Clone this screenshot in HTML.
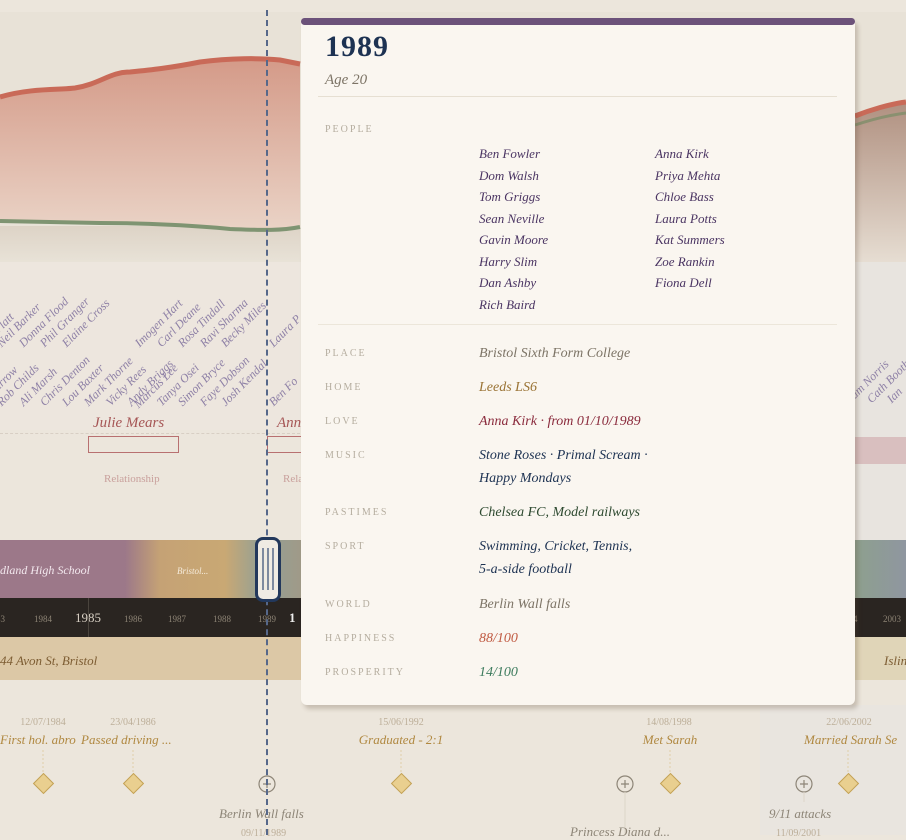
<!DOCTYPE html>
<html><head><meta charset="utf-8"><style>
*{margin:0;padding:0;box-sizing:border-box}
body{width:906px;height:835px;overflow:hidden;background:#ece6dc;font-family:"Liberation Serif",serif;position:relative}
.a{position:absolute;white-space:nowrap}
.i{font-style:italic}
.nm{position:absolute;font-style:italic;font-size:12px;color:#8e80a6;transform-origin:0 100%;transform:rotate(-45deg);white-space:nowrap;line-height:12px}
.lab{position:absolute;left:325px;font-size:10px;letter-spacing:2px;color:#b5ad9f}
.val{position:absolute;left:479px;font-size:14px;font-style:italic;line-height:23px}
.pn{position:absolute;font-size:13px;font-style:italic;color:#4a3462}
.dt{position:absolute;font-size:10px;color:#bcae98;transform:translateX(-50%)}
.ev{position:absolute;font-size:13px;font-style:italic;color:#b08840;transform:translateX(-50%)}
.dia{position:absolute;width:15px;height:15px;background:#e9cf8f;border:1px solid #c3a257;transform:rotate(45deg)}
.yr{position:absolute;top:614px;font-size:9px;color:#8d8475}
</style></head><body>
<div class="a" style="left:0;top:12px;width:906px;height:250px;background:#e8e2d7"></div>
<svg class="a" style="left:0;top:0" width="906" height="270">
<defs><linearGradient id="g1" x1="0" y1="0" x2="0" y2="1"><stop offset="0" stop-color="#d49a88"/><stop offset="1" stop-color="#ead3c6"/></linearGradient>
<linearGradient id="g2" x1="0" y1="0" x2="0" y2="1"><stop offset="0" stop-color="#b09080"/><stop offset="1" stop-color="#e6ddd2"/></linearGradient>
<linearGradient id="g3" x1="0" y1="0" x2="0" y2="1"><stop offset="0" stop-color="#ddd3c6"/><stop offset="1" stop-color="#e8e2d7"/></linearGradient></defs>
<rect x="0" y="226" width="300" height="36" fill="url(#g3)"/>
<path d="M0,97 C30,88 60,90 75,88 C100,84 110,72 130,72 C150,70 170,68 200,62 C230,58 260,58 280,60 L300,64 L300,227 C280,231 260,230 230,229 C200,226 150,223 100,223 L0,221 Z" fill="url(#g1)"/>
<path d="M0,97 C30,88 60,90 75,88 C100,84 110,72 130,72 C150,70 170,68 200,62 C230,58 260,58 280,60 L300,64" fill="none" stroke="#c96a58" stroke-width="5"/>
<path d="M0,221 L100,223 C150,223 200,226 230,229 C260,230 280,231 300,227" fill="none" stroke="#7f9472" stroke-width="4"/>
<path d="M855,116 C870,110 890,104 906,102 L906,262 L855,262 Z" fill="url(#g2)"/>
<path d="M855,116 C870,110 890,104 906,102" stroke="#c96a58" stroke-width="5" fill="none"/>
<path d="M855,125 C870,120 890,115 906,113" stroke="#8a9070" stroke-width="3" fill="none"/>
</svg>
<div class="a" style="left:0;top:262px;width:906px;height:168px;background:#ede6de"></div>
<div class="a" style="left:855px;top:262px;width:51px;height:278px;background:#e8e4df"></div>
<div class="nm" style="left:-14px;top:337px">Ian Platt</div>
<div class="nm" style="left:3px;top:337px">Neil Barker</div>
<div class="nm" style="left:25px;top:337px">Donna Flood</div>
<div class="nm" style="left:46px;top:337px">Phil Granger</div>
<div class="nm" style="left:68px;top:337px">Elaine Cross</div>
<div class="nm" style="left:141px;top:337px">Imogen Hart</div>
<div class="nm" style="left:163px;top:337px">Carl Deane</div>
<div class="nm" style="left:184px;top:337px">Rosa Tindall</div>
<div class="nm" style="left:206px;top:337px">Ravi Sharma</div>
<div class="nm" style="left:227px;top:337px">Becky Miles</div>
<div class="nm" style="left:275px;top:337px">Laura P</div>
<div class="nm" style="left:-16px;top:396px">Jo Farrow</div>
<div class="nm" style="left:3px;top:396px">Rob Childs</div>
<div class="nm" style="left:25px;top:396px">Ali Marsh</div>
<div class="nm" style="left:46px;top:396px">Chris Denton</div>
<div class="nm" style="left:68px;top:396px">Lou Baxter</div>
<div class="nm" style="left:90px;top:396px">Mark Thorne</div>
<div class="nm" style="left:112px;top:396px">Vicky Rees</div>
<div class="nm" style="left:133px;top:396px">Andy Briggs</div>
<div class="nm" style="left:140px;top:398px">Marcus Lee</div>
<div class="nm" style="left:163px;top:396px">Tanya Osei</div>
<div class="nm" style="left:184px;top:396px">Simon Bryce</div>
<div class="nm" style="left:206px;top:396px">Faye Dobson</div>
<div class="nm" style="left:227px;top:396px">Josh Kendal</div>
<div class="nm" style="left:275px;top:396px">Ben Fo</div>
<div class="nm" style="left:840px;top:393px">Hall</div>
<div class="nm" style="left:852px;top:393px">Sam Norris</div>
<div class="nm" style="left:873px;top:393px">Cath Booth</div>
<div class="nm" style="left:893px;top:393px">Ian</div>
<div class="a" style="left:0;top:433px;width:300px;border-top:1px dashed #d8cfc4"></div>
<div class="a i" style="left:93px;top:415px;font-size:15px;color:#a65656">Julie Mears</div>
<div class="a" style="left:88px;top:436px;width:91px;height:17px;border:1.5px solid #b87070"></div>
<div class="a" style="left:104px;top:473px;font-size:11px;color:#c9a09c">Relationship</div>
<div class="a i" style="left:277px;top:415px;font-size:15px;color:#a65656">Ann</div>
<div class="a" style="left:267px;top:436px;width:34px;height:17px;border:1.5px solid #b87070;border-right:none"></div>
<div class="a" style="left:283px;top:473px;font-size:11px;color:#c9a09c">Rela</div>
<div class="a" style="left:855px;top:437px;width:51px;height:27px;background:#d9bfbf"></div>
<div class="a" style="left:0;top:540px;width:301px;height:58px;background:linear-gradient(90deg,#9c7889 0,#9c7889 125px,#c5a275 160px,#c9a874 225px,#93a095 262px,#a09a88 301px)"></div>
<div class="a i" style="left:0;top:563px;font-size:12px;color:#f3e8ee">dland High School</div>
<div class="a i" style="left:177px;top:566px;font-size:9px;color:#f6ecdc">Bristol...</div>
<div class="a" style="left:855px;top:540px;width:51px;height:58px;background:linear-gradient(90deg,#8ea08e,#8f96a0)"></div>
<div class="a" style="left:0;top:598px;width:301px;height:39px;background:#2a2521"></div>
<div class="a" style="left:855px;top:598px;width:51px;height:39px;background:#2a2521"></div>
<div class="yr" style="left:-4px">83</div><div class="yr" style="left:34px">1984</div>
<div class="a" style="left:75px;top:610px;font-size:13px;color:#d8d0c4">1985</div>
<div class="a" style="left:88px;top:598px;width:1px;height:39px;background:#4a443d"></div>
<div class="yr" style="left:124px">1986</div><div class="yr" style="left:168px">1987</div><div class="yr" style="left:213px">1988</div><div class="yr" style="left:258px">1989</div>
<div class="a" style="left:289px;top:610px;font-size:13px;font-weight:bold;color:#eee">1</div>
<div class="yr" style="left:853px">4</div><div class="yr" style="left:883px">2003</div>
<div class="a" style="left:0;top:637px;width:301px;height:43px;background:#dcc8a6"></div>
<div class="a i" style="left:0;top:653px;font-size:13px;color:#7d5d33">44 Avon St, Bristol</div>
<div class="a" style="left:855px;top:637px;width:51px;height:43px;background:#e0d5b8"></div>
<div class="a i" style="left:884px;top:653px;font-size:13px;color:#7d5d33">Islington</div>
<div class="a" style="left:760px;top:705px;width:146px;height:130px;background:#e9e5df"></div>
<div class="dt" style="left:43px;top:717px">12/07/1984</div>
<div class="dt" style="left:133px;top:717px">23/04/1986</div>
<div class="dt" style="left:401px;top:717px">15/06/1992</div>
<div class="dt" style="left:669px;top:717px">14/08/1998</div>
<div class="dt" style="left:849px;top:717px">22/06/2002</div>
<div class="a i" style="left:0;top:732px;font-size:13px;color:#b08840">First hol. abro</div>
<div class="a i" style="left:81px;top:732px;font-size:13px;color:#b08840">Passed driving ...</div>
<div class="ev" style="left:401px;top:732px">Graduated - 2:1</div>
<div class="ev" style="left:670px;top:732px">Met Sarah</div>
<div class="a i" style="left:804px;top:732px;font-size:13px;color:#b08840">Married Sarah Se</div>
<svg class="a" style="left:0;top:750px" width="906" height="85">
<g stroke="#e0cfa8" stroke-dasharray="2,2"><line x1="43" y1="0" x2="43" y2="25"/><line x1="133" y1="0" x2="133" y2="25"/><line x1="401" y1="0" x2="401" y2="25"/><line x1="670" y1="0" x2="670" y2="25"/><line x1="848" y1="0" x2="848" y2="25"/></g>
<g fill="none" stroke="#8d8577" stroke-width="1.2"><circle cx="267" cy="34" r="8"/><circle cx="625" cy="34" r="8"/><circle cx="804" cy="34" r="8"/>
<path d="M263,34h8M267,30v8M621,34h8M625,30v8M800,34h8M804,30v8"/></g>
<g stroke="#ddd5c8"><line x1="625" y1="42" x2="625" y2="85"/><line x1="804" y1="42" x2="804" y2="52"/></g>
</svg>
<div class="dia" style="left:36px;top:776px"></div>
<div class="dia" style="left:126px;top:776px"></div>
<div class="dia" style="left:394px;top:776px"></div>
<div class="dia" style="left:663px;top:776px"></div>
<div class="dia" style="left:841px;top:776px"></div>
<div class="a i" style="left:219px;top:806px;font-size:13px;color:#8d8577">Berlin Wall falls</div>
<div class="a" style="left:241px;top:828px;font-size:10px;color:#bcae98">09/11/1989</div>
<div class="a i" style="left:769px;top:806px;font-size:13px;color:#8d8577">9/11 attacks</div>
<div class="a" style="left:776px;top:828px;font-size:10px;color:#bcae98">11/09/2001</div>
<div class="a i" style="left:570px;top:824px;font-size:13px;color:#8d8577">Princess Diana d...</div>
<div class="a" style="left:266px;top:10px;width:0;height:825px;border-left:2px dashed #56688a"></div>
<div class="a" style="left:255px;top:537px;width:26px;height:65px;background:#efebe3;border:3px solid #22385c;border-radius:8px"></div>
<div class="a" style="left:262px;top:548px;width:2px;height:42px;background:#7d8aa0"></div>
<div class="a" style="left:267px;top:548px;width:2px;height:42px;background:#7d8aa0"></div>
<div class="a" style="left:272px;top:548px;width:2px;height:42px;background:#7d8aa0"></div>
<div class="a" style="left:301px;top:18px;width:554px;height:687px;background:#faf6f0;border-radius:6px;box-shadow:3px 4px 4px rgba(90,70,50,0.25)"></div>
<div class="a" style="left:301px;top:18px;width:554px;height:7px;background:#6c527a;border-radius:4px"></div>
<div class="a" style="left:325px;top:30px;font-size:30px;font-weight:bold;color:#1d3252;letter-spacing:1px">1989</div>
<div class="a i" style="left:325px;top:72px;font-size:15px;color:#7d7466">Age 20</div>
<div class="a" style="left:318px;top:96px;width:519px;height:1px;background:#e6dfd2"></div>
<div class="lab" style="top:124px">PEOPLE</div>
<div class="pn" style="left:479px;top:146px">Ben Fowler</div>
<div class="pn" style="left:479px;top:168px">Dom Walsh</div>
<div class="pn" style="left:479px;top:189px">Tom Griggs</div>
<div class="pn" style="left:479px;top:211px">Sean Neville</div>
<div class="pn" style="left:479px;top:232px">Gavin Moore</div>
<div class="pn" style="left:479px;top:254px">Harry Slim</div>
<div class="pn" style="left:479px;top:275px">Dan Ashby</div>
<div class="pn" style="left:479px;top:297px">Rich Baird</div>
<div class="pn" style="left:655px;top:146px">Anna Kirk</div>
<div class="pn" style="left:655px;top:168px">Priya Mehta</div>
<div class="pn" style="left:655px;top:189px">Chloe Bass</div>
<div class="pn" style="left:655px;top:211px">Laura Potts</div>
<div class="pn" style="left:655px;top:232px">Kat Summers</div>
<div class="pn" style="left:655px;top:254px">Zoe Rankin</div>
<div class="pn" style="left:655px;top:275px">Fiona Dell</div>
<div class="a" style="left:318px;top:324px;width:519px;height:1px;background:#ece6da"></div>
<div class="lab" style="top:348px">PLACE</div><div class="val" style="top:342px;color:#7d7466">Bristol Sixth Form College</div>
<div class="lab" style="top:382px">HOME</div><div class="val" style="top:376px;color:#9a7334">Leeds LS6</div>
<div class="lab" style="top:416px">LOVE</div><div class="val" style="top:410px;color:#8a2a3c">Anna Kirk · from 01/10/1989</div>
<div class="lab" style="top:450px">MUSIC</div><div class="val" style="top:444px;color:#1d3252">Stone Roses · Primal Scream ·<br>Happy Mondays</div>
<div class="lab" style="top:507px">PASTIMES</div><div class="val" style="top:501px;color:#2e4a30">Chelsea FC, Model railways</div>
<div class="lab" style="top:541px">SPORT</div><div class="val" style="top:535px;color:#1d3252">Swimming, Cricket, Tennis,<br>5-a-side football</div>
<div class="lab" style="top:599px">WORLD</div><div class="val" style="top:593px;color:#7d7466">Berlin Wall falls</div>
<div class="lab" style="top:633px">HAPPINESS</div><div class="val" style="top:627px;color:#c05a42">88/100</div>
<div class="lab" style="top:667px">PROSPERITY</div><div class="val" style="top:661px;color:#3b7a5c">14/100</div>
</body></html>
